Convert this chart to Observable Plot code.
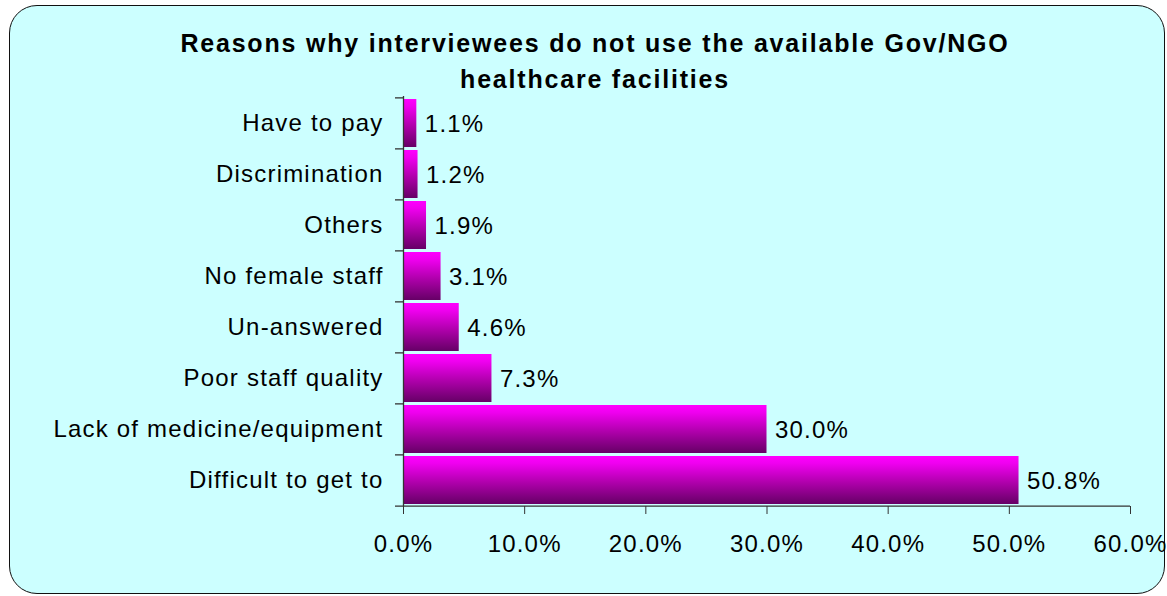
<!DOCTYPE html>
<html>
<head>
<meta charset="utf-8">
<script src="https://cdn.jsdelivr.net/npm/d3@7"></script>
<script src="https://cdn.jsdelivr.net/npm/@observablehq/plot@0.6"></script>
<style>
  html, body { margin: 0; padding: 0; background: #ffffff; }
  body { width: 1167px; height: 596px; position: relative; overflow: hidden; font-family: "Liberation Sans", Arial, sans-serif; }
  #frame { position: absolute; left: 9px; top: 5px; width: 1156px; height: 589px; border: 1.3px solid #111; border-radius: 28px; background: #CCFFFF; box-sizing: border-box; }
  #title { position: absolute; left: 95px; width: 1000px; top: 25px; text-align: center; font-weight: bold; font-size: 25px; line-height: 36px; color: #000; letter-spacing: 1.8px; }
  #chart { position: absolute; left: 0; top: 0; }
  #chart svg text { letter-spacing: 1.2px; }
</style>
</head>
<body>
<div id="frame"></div>
<div id="title">Reasons why interviewees do not use the available Gov/NGO<br>healthcare facilities</div>
<div id="chart"></div>
<script>
const categories = ["Have to pay", "Discrimination", "Others", "No female staff", "Un-answered", "Poor staff quality", "Lack of medicine/equipment", "Difficult to get to"];
const values = [1.1, 1.2, 1.9, 3.1, 4.6, 7.3, 30.0, 50.8];
const xTicks = [0, 10, 20, 30, 40, 50, 60];

const data = categories.map((c, i) => ({category: c, value: values[i]}));

const W = 1167, H = 596, mL = 403, mR = 37, mT = 96, mB = 90;
const step = (H - mT - mB) / categories.length;
const tickLen = 8 * (xTicks[xTicks.length - 1] - xTicks[0]) / (W - mL - mR);

const chart = Plot.plot({
  width: W,
  height: H,
  marginLeft: mL,
  marginRight: mR,
  marginTop: mT,
  marginBottom: mB,
  style: {background: "transparent", fontFamily: "'Liberation Sans', Arial, sans-serif", color: "#000"},
  x: {domain: [xTicks[0], xTicks[xTicks.length - 1]]},
  y: {domain: categories, paddingInner: 0.06, paddingOuter: 0.03},
  marks: [
    Plot.barX(data, {x: "value", y: "category", fill: "url(#barGrad)"}),
    Plot.text(data, {x: "value", y: "category", text: d => d.value.toFixed(1) + "%", textAnchor: "start", dx: 8, dy: 1, fontSize: 24, fill: "#000"}),
    Plot.ruleX([0], {stroke: "#333", strokeWidth: 1.3}),
    Plot.ruleY(categories, {y: d => d, dy: -step / 2, x1: -tickLen, x2: 0, stroke: "#333", strokeWidth: 1.3}),
    Plot.ruleY(categories.slice(-1), {y: d => d, dy: step / 2, x1: -tickLen, x2: xTicks[xTicks.length - 1], stroke: "#333", strokeWidth: 1.3}),
    Plot.axisX({ticks: xTicks, tickFormat: d => d.toFixed(1) + "%", tickSize: 8, tickPadding: 20, fontSize: 24, stroke: "#333", fill: "#000", label: null}),
    Plot.axisY({tickSize: 0, tickPadding: 20, fontSize: 24, fill: "#000", label: null})
  ]
});

const defs = d3.select(chart).insert("defs", ":first-child");
const g = defs.append("linearGradient").attr("id", "barGrad").attr("x1", 0).attr("y1", 0).attr("x2", 0).attr("y2", 1);
g.append("stop").attr("offset", "0%").attr("stop-color", "#FF00FF");
g.append("stop").attr("offset", "15%").attr("stop-color", "#F000F0");
g.append("stop").attr("offset", "55%").attr("stop-color", "#B000AC");
g.append("stop").attr("offset", "100%").attr("stop-color", "#660066");

document.getElementById("chart").appendChild(chart);
</script>
</body>
</html>
